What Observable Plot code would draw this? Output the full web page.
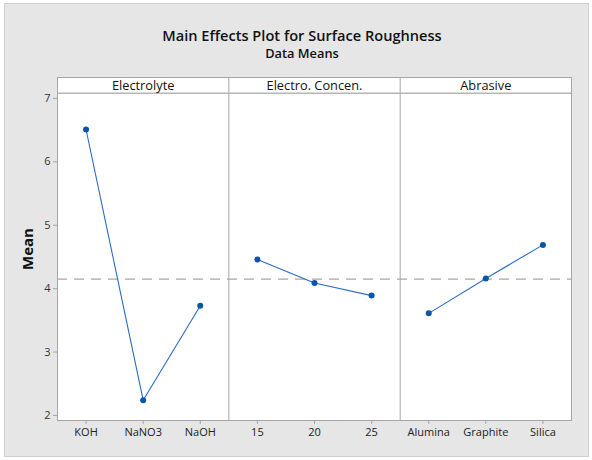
<!DOCTYPE html>
<html>
<head>
<meta charset="utf-8">
<script src="https://cdn.jsdelivr.net/npm/d3@7"></script>
<script src="https://cdn.jsdelivr.net/npm/@observablehq/plot@0.6"></script>
<style>
  html, body { margin: 0; padding: 0; background: #ffffff; }
  #page { position: relative; width: 592px; height: 460px; overflow: hidden; font-family: "Open Sans", "Noto Sans", sans-serif; }
  #bg { position: absolute; left: 4px; top: 3px; width: 585px; height: 454px; background: #e6e6e6; border: 1px solid #cfcfcf; box-sizing: border-box; }
  #title { position: absolute; left: 6px; width: 592px; top: 26px; text-align: center; font-size: 14.6px; font-weight: 600; color: #111; line-height: 18px; }
  #subtitle { position: absolute; left: 6px; width: 592px; top: 45px; text-align: center; font-size: 12.8px; font-weight: 600; color: #111; line-height: 16px; }
  #chart { position: absolute; left: 0; top: 60px; }
</style>
</head>
<body>
<div id="page">
  <div id="bg"></div>
  <div id="title">Main Effects Plot for Surface Roughness</div>
  <div id="subtitle">Data Means</div>
  <div id="chart"></div>
</div>
<script>
const factors = ["Electrolyte", "Electro. Concen.", "Abrasive"];
const electrolyteLevels = ["KOH", "NaNO3", "NaOH"];
const concentrationLevels = ["15", "20", "25"];
const abrasiveLevels = ["Alumina", "Graphite", "Silica"];
const electrolyteMeans = [6.51, 2.24, 3.73];
const concentrationMeans = [4.46, 4.09, 3.89];
const abrasiveMeans = [3.61, 4.16, 4.69];
const grandMean = 4.15;
const yTicks = [2, 3, 4, 5, 6, 7];

const levelSets = [electrolyteLevels, concentrationLevels, abrasiveLevels];
const meanSets = [electrolyteMeans, concentrationMeans, abrasiveMeans];
const data = [];
levelSets.forEach((levels, f) => {
  levels.forEach((lv, i) => {
    data.push({factor: factors[f], level: lv, x: 3 * f + i + 0.5, mean: meanSets[f][i]});
  });
});
const xTicks = data.map(d => d.x);
const xLabel = new Map(data.map(d => [d.x, d.level]));

const lineColor = "#2a6cc4";
const dotColor = "#0b55a8";
const gridGray = "#a6a6a6";

const chart = Plot.plot({
  width: 592,
  height: 400,
  marginLeft: 57,
  marginRight: 21,
  marginTop: 17,
  marginBottom: 40,
  style: {background: "transparent", fontFamily: "'Open Sans', 'Noto Sans', sans-serif"},
  x: {type: "linear", domain: [0, 9], axis: null},
  y: {domain: [1.92, 7.33], axis: null},
  marks: [
    Plot.frame({fill: "white", stroke: "none"}),
    Plot.ruleY([grandMean], {stroke: gridGray, strokeWidth: 1.2, strokeDasharray: "10,7"}),
    Plot.ruleX([3, 6], {stroke: gridGray, strokeWidth: 1}),
    Plot.ruleY([7.08], {stroke: "#b5b5b5", strokeWidth: 1.5}),
    Plot.text(factors, {x: (d, i) => 3 * i + 1.5, y: 7.205, text: d => d, fontSize: 12.8, fill: "#111"}),
    Plot.line(data, {x: "x", y: "mean", z: "factor", stroke: lineColor, strokeWidth: 1.1}),
    Plot.dot(data, {x: "x", y: "mean", r: 3, fill: dotColor, stroke: "none"}),
    Plot.frame({stroke: gridGray, strokeWidth: 1}),
    Plot.axisY({ticks: yTicks, tickFormat: d3.format("d"), tickSize: 4, tickPadding: 3, fontSize: 11, stroke: gridGray, color: "#333", label: null}),
    Plot.axisX({ticks: xTicks, tickFormat: d => xLabel.get(d), tickSize: 4, tickPadding: 4, fontSize: 11, stroke: gridGray, color: "#222", label: null}),
    Plot.text(["Mean"], {frameAnchor: "left", dx: -29, rotate: -90, textAnchor: "middle", fontSize: 15, fontWeight: "bold", fill: "#111"})
  ]
});
document.getElementById("chart").appendChild(chart);
</script>
</body>
</html>
